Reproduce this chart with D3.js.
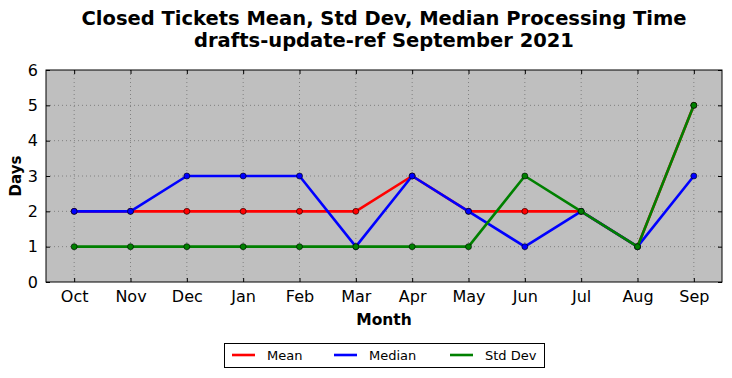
<!DOCTYPE html>
<html><head><meta charset="utf-8">
<script src="https://cdn.jsdelivr.net/npm/d3@7"></script>
<style>body{margin:0;background:#fff;} svg{display:block;font-family:"DejaVu Sans",sans-serif;}</style>
</head><body>
<svg id="c" width="732" height="378"></svg>
<script>
const months = ["Oct","Nov","Dec","Jan","Feb","Mar","Apr","May","Jun","Jul","Aug","Sep"];
const meanVals = [2,2,2,2,2,2,3,2,2,2,1,5];
const medianVals = [2,2,3,3,3,1,3,2,1,2,1,3];
const stdVals = [1,1,1,1,1,1,1,1,3,2,1,5];
const yTicks = [0,1,2,3,4,5,6];
const seriesNames = ["Mean","Median","Std Dev"];
const seriesColors = ["#ff0000","#0000ff","#008000"];
const titleLines = ["Closed Tickets Mean, Std Dev, Median Processing Time","drafts-update-ref September 2021"];

const svg = d3.select("#c");
const L=46, R=722, T=70, B=282;
const x = d3.scalePoint().domain(months).range([L,R]).padding(0.5);
const y = d3.scaleLinear().domain([0,6]).range([B,T]);

svg.append("rect").attr("x",L).attr("y",T).attr("width",R-L).attr("height",B-T).attr("fill","#bfbfbf");

// grid
const g = svg.append("g");
g.selectAll(".vg").data(months).join("line").attr("x1",d=>x(d)).attr("x2",d=>x(d)).attr("y1",T).attr("y2",B)
 .attr("stroke","#808080").attr("stroke-width",1).attr("stroke-dasharray","1,3");
g.selectAll(".hg").data(yTicks.slice(1,-1)).join("line").attr("x1",L).attr("x2",R).attr("y1",d=>y(d)).attr("y2",d=>y(d))
 .attr("stroke","#808080").attr("stroke-width",1).attr("stroke-dasharray","1,3");

// axes with inward ticks
const axB = svg.append("g").attr("transform",`translate(0,${B})`).call(d3.axisBottom(x).tickSize(-4).tickPadding(9));
const axT = svg.append("g").attr("transform",`translate(0,${T})`).call(d3.axisTop(x).tickSize(-4).tickFormat(""));
const axL = svg.append("g").attr("transform",`translate(${L},0)`).call(d3.axisLeft(y).tickValues(yTicks).tickSize(-4).tickPadding(8).tickFormat(d3.format("d")));
const axR = svg.append("g").attr("transform",`translate(${R},0)`).call(d3.axisRight(y).tickValues(yTicks).tickSize(-4).tickFormat(""));
[axB,axT,axL,axR].forEach(a=>{a.select(".domain").remove(); a.selectAll("text").attr("font-size",16).attr("fill","#000").attr("font-family","DejaVu Sans, sans-serif"); a.selectAll("line").attr("stroke","#000");});
svg.append("rect").attr("x",L).attr("y",T).attr("width",R-L).attr("height",B-T).attr("fill","none").attr("stroke","#000").attr("stroke-width",1);

// series
const data = [meanVals, medianVals, stdVals];
const line = d3.line().x((d,i)=>x(months[i])).y(d=>y(d));
data.forEach((vals,si)=>{
  svg.append("path").datum(vals).attr("d",line).attr("fill","none").attr("stroke",seriesColors[si]).attr("stroke-width",2.6).attr("stroke-linejoin","round");
  svg.append("g").selectAll("circle").data(vals).join("circle")
    .attr("cx",(d,i)=>x(months[i])).attr("cy",d=>y(d)).attr("r",3).attr("fill",seriesColors[si]).attr("stroke","#000").attr("stroke-width",0.6);
});

// titles
svg.append("text").attr("x",(L+R)/2).attr("y",25).attr("text-anchor","middle").attr("font-size",19.5).attr("font-weight","bold").text(titleLines[0]);
svg.append("text").attr("x",(L+R)/2).attr("y",47).attr("text-anchor","middle").attr("font-size",19.5).attr("font-weight","bold").text(titleLines[1]);
svg.append("text").attr("x",(L+R)/2).attr("y",325).attr("text-anchor","middle").attr("font-size",15.5).attr("font-weight","bold").text("Month");
svg.append("text").attr("transform",`translate(21,${(T+B)/2}) rotate(-90)`).attr("text-anchor","middle").attr("font-size",15).attr("font-weight","bold").text("Days");

// legend
svg.append("rect").attr("x",224.5).attr("y",343.5).attr("width",320).attr("height",24).attr("fill","#fff").attr("stroke","#000").attr("stroke-width",1);
const legX = [232,334,450];
seriesNames.forEach((n,i)=>{
  svg.append("line").attr("x1",legX[i]).attr("x2",legX[i]+23).attr("y1",355).attr("y2",355).attr("stroke",seriesColors[i]).attr("stroke-width",2.6);
  svg.append("text").attr("x",legX[i]+35).attr("y",360).attr("font-size",13).text(n);
});
</script>
</body></html>
